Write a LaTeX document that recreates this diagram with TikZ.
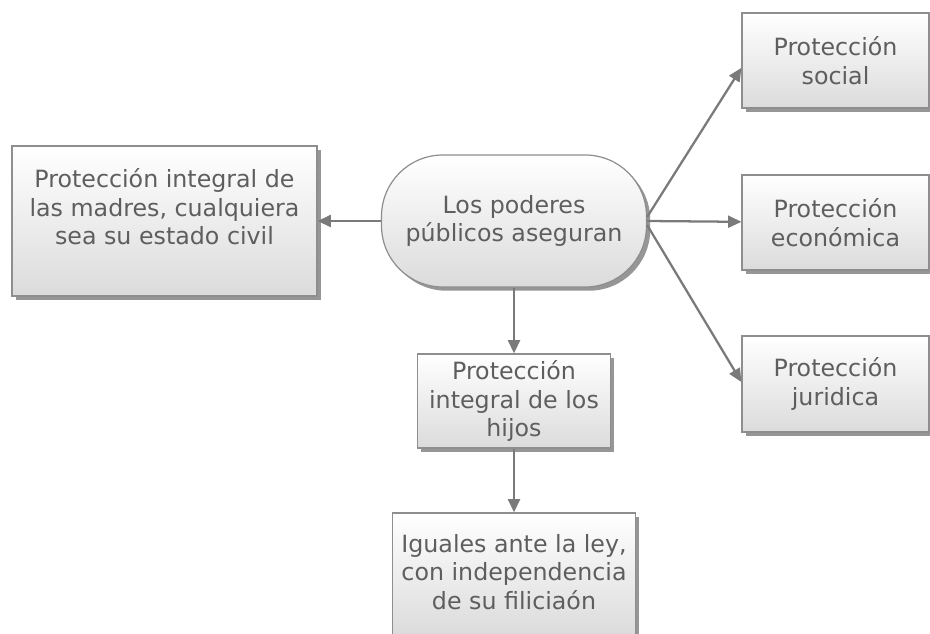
\documentclass[tikz,border=0pt]{standalone}
\usepackage{fontspec}
\setmainfont{DejaVu Sans}
\usetikzlibrary{arrows.meta,shadows}
\definecolor{txtgray}{HTML}{5E5E5E}
\definecolor{bordergray}{HTML}{8E8E8E}
\definecolor{arrgray}{HTML}{7A7A7A}
\tikzset{
  boxbase/.style={draw=bordergray, line width=0.9pt, top color=white, bottom color=black!14,
    drop shadow={shadow xshift=2.8pt, shadow yshift=-2.8pt, fill=black!55, opacity=0.75},
    text=txtgray, align=center, inner sep=0pt,
    font=\fontsize{17.8}{21.5}\selectfont},
  txt/.style={text=txtgray, align=center, inner sep=0pt, font=\fontsize{17.8}{21.5}\selectfont},
  arr/.style={draw=arrgray, line width=1.7pt, -{Triangle[length=10pt,width=9pt]}}
}
\begin{document}
\begin{tikzpicture}[x=0.75pt,y=-0.75pt]
\useasboundingbox (0,0) rectangle (930,634);
\clip (0,0) rectangle (930,634);
\fill[white] (0,0) rectangle (930,634);
% boxes
\node[boxbase, minimum width=228.75pt, minimum height=112.5pt] (madres) at (164.5,221) {};
\node[txt] (madrest) at (164.5,207) {Protección integral de\\las madres, cualquiera\\sea su estado civil};
\node[boxbase, rounded corners=46pt, minimum width=198.75pt, minimum height=99pt] (centro) at (514,221) {Los poderes\\públicos aseguran};
\node[boxbase, minimum width=140.25pt, minimum height=71.25pt] (social) at (835.5,60.5) {Protección\\social};
\node[boxbase, minimum width=140.25pt, minimum height=71.25pt] (econ) at (835.5,222.5) {Protección\\económica};
\node[boxbase, minimum width=140.25pt, minimum height=72pt] (jur) at (835.5,384) {Protección\\juridica};
\node[boxbase, minimum width=144.75pt, minimum height=70.5pt] (hijos) at (514,401) {Protección\\integral de los\\hijos};
\node[boxbase, minimum width=182.25pt, minimum height=91.5pt] (iguales) at (514,574) {};
\node[txt] (igualest) at (514,572) {Iguales ante la ley,\\con independencia\\de su filiciaón};
% connectors
\draw[arr] (centro.west) -- (madres.east);
\draw[arr] (centro.south) -- (hijos.north);
\draw[arr] (hijos.south) -- (iguales.north);
\draw[arr] ([yshift=3pt]centro.east) -- ([yshift=-5.5pt]social.west);
\draw[arr] (centro.east) -- ([yshift=0.5pt]econ.west);
\draw[arr] ([yshift=-3pt]centro.east) -- ([yshift=1.5pt]jur.west);
\end{tikzpicture}
\end{document}
